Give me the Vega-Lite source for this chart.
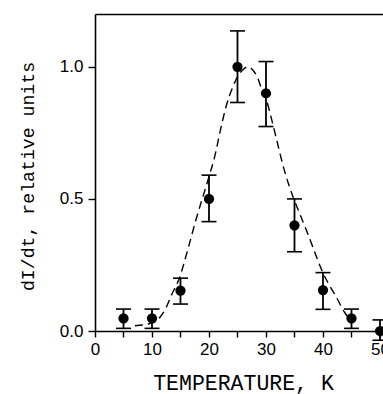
{
  "$schema": "https://vega.github.io/schema/vega-lite/v6.json",
  "width": 288,
  "height": 317,
  "autosize": "none",
  "padding": {"left": 95, "top": 14, "right": 0, "bottom": 63},
  "background": "white",
  "config": {
    "view": {"stroke": null},
    "axis": {
      "grid": false,
      "domainColor": "black",
      "domainWidth": 1.6,
      "tickColor": "black",
      "tickWidth": 1.4,
      "labelColor": "black",
      "labelFont": "Liberation Sans",
      "labelFontSize": 17,
      "titleColor": "black",
      "titleFont": "Liberation Mono",
      "titleFontWeight": "normal"
    }
  },
  "datasets": {
    "pts": [
      {"t": 5, "v": 0.048, "lo": 0.01, "hi": 0.083},
      {"t": 10, "v": 0.048, "lo": 0.01, "hi": 0.083},
      {"t": 15, "v": 0.153, "lo": 0.102, "hi": 0.2},
      {"t": 20, "v": 0.5, "lo": 0.414, "hi": 0.59},
      {"t": 25, "v": 1.0, "lo": 0.865, "hi": 1.136},
      {"t": 30, "v": 0.9, "lo": 0.774, "hi": 1.02},
      {"t": 35, "v": 0.4, "lo": 0.3, "hi": 0.5},
      {"t": 40, "v": 0.155, "lo": 0.082, "hi": 0.221},
      {"t": 45, "v": 0.048, "lo": 0.01, "hi": 0.083},
      {"t": 50, "v": 0.0, "lo": -0.035, "hi": 0.042}
    ],
    "curve": [
      {"t": 7.0, "v": 0.02}, {"t": 9.0, "v": 0.025}, {"t": 10.5, "v": 0.035},
      {"t": 11.5, "v": 0.055}, {"t": 12.5, "v": 0.09}, {"t": 13.5, "v": 0.14},
      {"t": 14.8, "v": 0.2}, {"t": 16.3, "v": 0.31}, {"t": 17.7, "v": 0.42},
      {"t": 19.8, "v": 0.57}, {"t": 21.0, "v": 0.66}, {"t": 22.1, "v": 0.77},
      {"t": 23.0, "v": 0.85}, {"t": 24.2, "v": 0.925}, {"t": 25.2, "v": 0.97},
      {"t": 26.0, "v": 0.99}, {"t": 26.8, "v": 1.0}, {"t": 27.6, "v": 0.99},
      {"t": 28.5, "v": 0.96}, {"t": 29.1, "v": 0.925}, {"t": 30.0, "v": 0.88},
      {"t": 31.0, "v": 0.8}, {"t": 31.8, "v": 0.73}, {"t": 33.2, "v": 0.61},
      {"t": 34.7, "v": 0.51}, {"t": 36.0, "v": 0.44}, {"t": 37.3, "v": 0.37},
      {"t": 38.7, "v": 0.29}, {"t": 40.0, "v": 0.22}, {"t": 41.2, "v": 0.17},
      {"t": 42.3, "v": 0.13}, {"t": 43.8, "v": 0.07}, {"t": 44.5, "v": 0.05}
    ]
  },
  "resolve": {"axis": {"x": "independent", "y": "independent"}},
  "layer": [
    {
      "data": {"name": "curve"},
      "mark": {"type": "line", "color": "black", "strokeWidth": 1.4, "strokeDash": [8, 5], "interpolate": "monotone"},
      "encoding": {
        "x": {
          "field": "t", "type": "quantitative",
          "scale": {"domain": [0, 50.53], "nice": false, "zero": false},
          "axis": {
            "orient": "bottom",
            "values": [0, 5, 10, 15, 20, 25, 30, 35, 40, 45, 50],
            "labelExpr": "datum.value % 10 === 0 ? datum.label : ''",
            "tickSize": 6,
            "labelPadding": 4,
            "labelFlush": false,
            "labelOverlap": false,
            "title": "TEMPERATURE, K",
            "titleFontSize": 21.5,
            "titleX": 148,
            "titleY": 58,
            "titleBaseline": "alphabetic",
            "titleAlign": "center"
          }
        },
        "y": {
          "field": "v", "type": "quantitative",
          "scale": {"domain": [0, 1.2], "nice": false},
          "axis": {
            "orient": "left",
            "values": [0, 0.5, 1.0],
            "format": ".1f",
            "tickSize": 7,
            "labelPadding": 5,
            "title": "dI/dt, relative units",
            "titleFontSize": 18.2,
            "titleX": -62,
            "titleY": 162,
            "titleAngle": -90,
            "titleBaseline": "alphabetic",
            "titleAlign": "center"
          }
        }
      }
    },
    {
      "data": {"name": "pts"},
      "mark": {"type": "rule", "color": "black", "strokeWidth": 1.8},
      "encoding": {
        "x": {"field": "t", "type": "quantitative", "axis": null},
        "y": {"field": "lo", "type": "quantitative", "axis": null},
        "y2": {"field": "hi"}
      }
    },
    {
      "data": {"name": "pts"},
      "mark": {"type": "tick", "color": "black", "orient": "horizontal", "size": 15, "thickness": 1.6, "opacity": 1},
      "encoding": {
        "x": {"field": "t", "type": "quantitative", "axis": null},
        "y": {"field": "lo", "type": "quantitative", "axis": null}
      }
    },
    {
      "data": {"name": "pts"},
      "mark": {"type": "tick", "color": "black", "orient": "horizontal", "size": 15, "thickness": 1.6, "opacity": 1},
      "encoding": {
        "x": {"field": "t", "type": "quantitative", "axis": null},
        "y": {"field": "hi", "type": "quantitative", "axis": null}
      }
    },
    {
      "data": {"name": "pts"},
      "mark": {"type": "point", "filled": true, "color": "black", "opacity": 1, "size": 105},
      "encoding": {
        "x": {"field": "t", "type": "quantitative", "axis": null},
        "y": {"field": "v", "type": "quantitative", "axis": null}
      }
    },
    {
      "data": {"name": "pts"},
      "mark": {"type": "point", "opacity": 0},
      "encoding": {
        "x": {
          "field": "t", "type": "quantitative",
          "axis": {"orient": "top", "ticks": false, "labels": false, "title": null, "domainWidth": 1.5}
        },
        "y": {"field": "v", "type": "quantitative", "axis": null}
      }
    }
  ]
}
